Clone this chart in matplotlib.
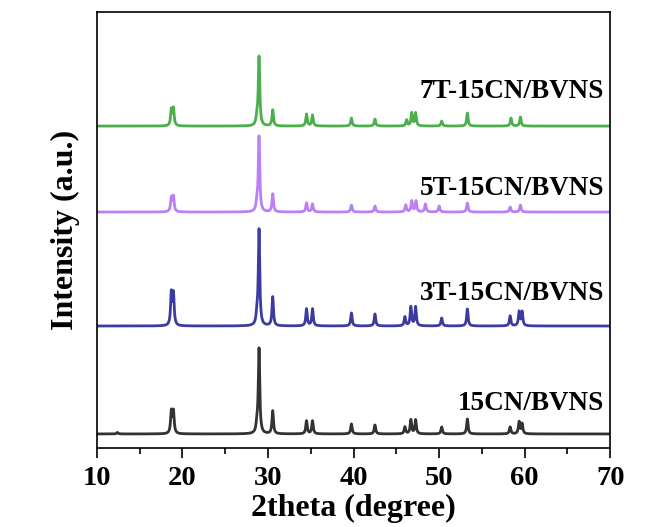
import matplotlib.pyplot as plt
import numpy as np

plt.rcParams["font.family"] = ["Liberation Serif", "DejaVu Serif"]
plt.rcParams["font.weight"] = "bold"

# peak tables read per pattern: 2theta position, height above baseline
peaks_15cn = [12.4, 18.7, 18.95, 28.7, 28.95, 30.55, 34.5, 35.2, 39.75, 42.5, 46.0,
              46.7, 47.25, 50.3, 53.3, 58.3, 59.35, 59.7]
heights_15cn = [1.5, 22, 22, 8, 85, 23, 13, 13, 10, 9, 7, 14, 14, 7, 15, 7, 12, 10]

peaks_3t = [18.7, 18.95, 28.7, 28.95, 30.55, 34.5, 35.2, 39.75, 42.5, 46.0, 46.7,
            47.25, 50.3, 53.3, 58.3, 59.35, 59.7]
heights_3t = [32, 31, 9, 96, 29, 17, 17, 13, 12, 9, 19, 19, 8, 17, 10, 14, 14]

peaks_5t = [18.7, 18.95, 28.7, 28.95, 30.55, 34.5, 35.2, 39.75, 42.5, 46.1, 46.8,
            47.3, 48.4, 50.0, 53.3, 58.3, 59.5]
heights_5t = [14, 15, 8, 75, 18, 9, 8, 7, 6, 7, 11, 11, 8, 6, 9, 5, 7]

peaks_7t = [18.7, 18.95, 28.7, 28.95, 30.55, 34.5, 35.2, 39.75, 42.5, 46.2, 46.8,
            47.25, 50.3, 53.3, 58.4, 59.5]
heights_7t = [16, 17, 8, 69, 16, 12, 11, 8, 7, 6, 13, 13, 5, 13, 8, 9]

offsets = [14, 122, 236, 322]
labels = ["15CN/BVNS", "3T-15CN/BVNS", "5T-15CN/BVNS", "7T-15CN/BVNS"]
label_y = [44, 155, 260, 357]
colors = ["#333333", "#3c3ca0", "#bb80f5", "#4caf4c"]

two_theta = np.linspace(10, 70, 6001)


def pattern(pos, amp, width=0.1):
    y = np.zeros_like(two_theta)
    for p, a in zip(pos, amp):
        y += a / (1 + ((two_theta - p) / width) ** 2)
    return y


series = [(peaks_15cn, heights_15cn), (peaks_3t, heights_3t),
          (peaks_5t, heights_5t), (peaks_7t, heights_7t)]

fig = plt.figure(figsize=(6.59, 5.27), dpi=100)
ax = fig.add_axes([0.147, 0.150, 0.779, 0.827])
for (pos, amp), off, c, lab, ly in zip(series, offsets, colors, labels, label_y):
    ax.plot(two_theta, pattern(pos, amp) + off, color=c, lw=2.0)
    ax.text(69.3, ly, lab, ha="right", va="center", fontsize=19.5, fontweight="bold")

ax.set_xlim(10, 70)
ax.set_ylim(0, 436)
ax.set_xticks(np.arange(10, 71, 10))
ax.set_xticks(np.arange(15, 70, 10), minor=True)
ax.set_yticks([])
ax.tick_params(axis="x", which="major", direction="out", length=7, width=1.2, labelsize=20.5, pad=6)
ax.tick_params(axis="x", which="minor", direction="out", length=4, width=1.2)
for s in ax.spines.values():
    s.set_linewidth(1.2)
ax.set_xlabel("2theta (degree)", fontsize=23, fontweight="bold", labelpad=2)
ax.set_ylabel("Intensity (a.u.)", fontsize=23, fontweight="bold", labelpad=12)

fig.savefig("out.png", dpi=100, facecolor="white")
